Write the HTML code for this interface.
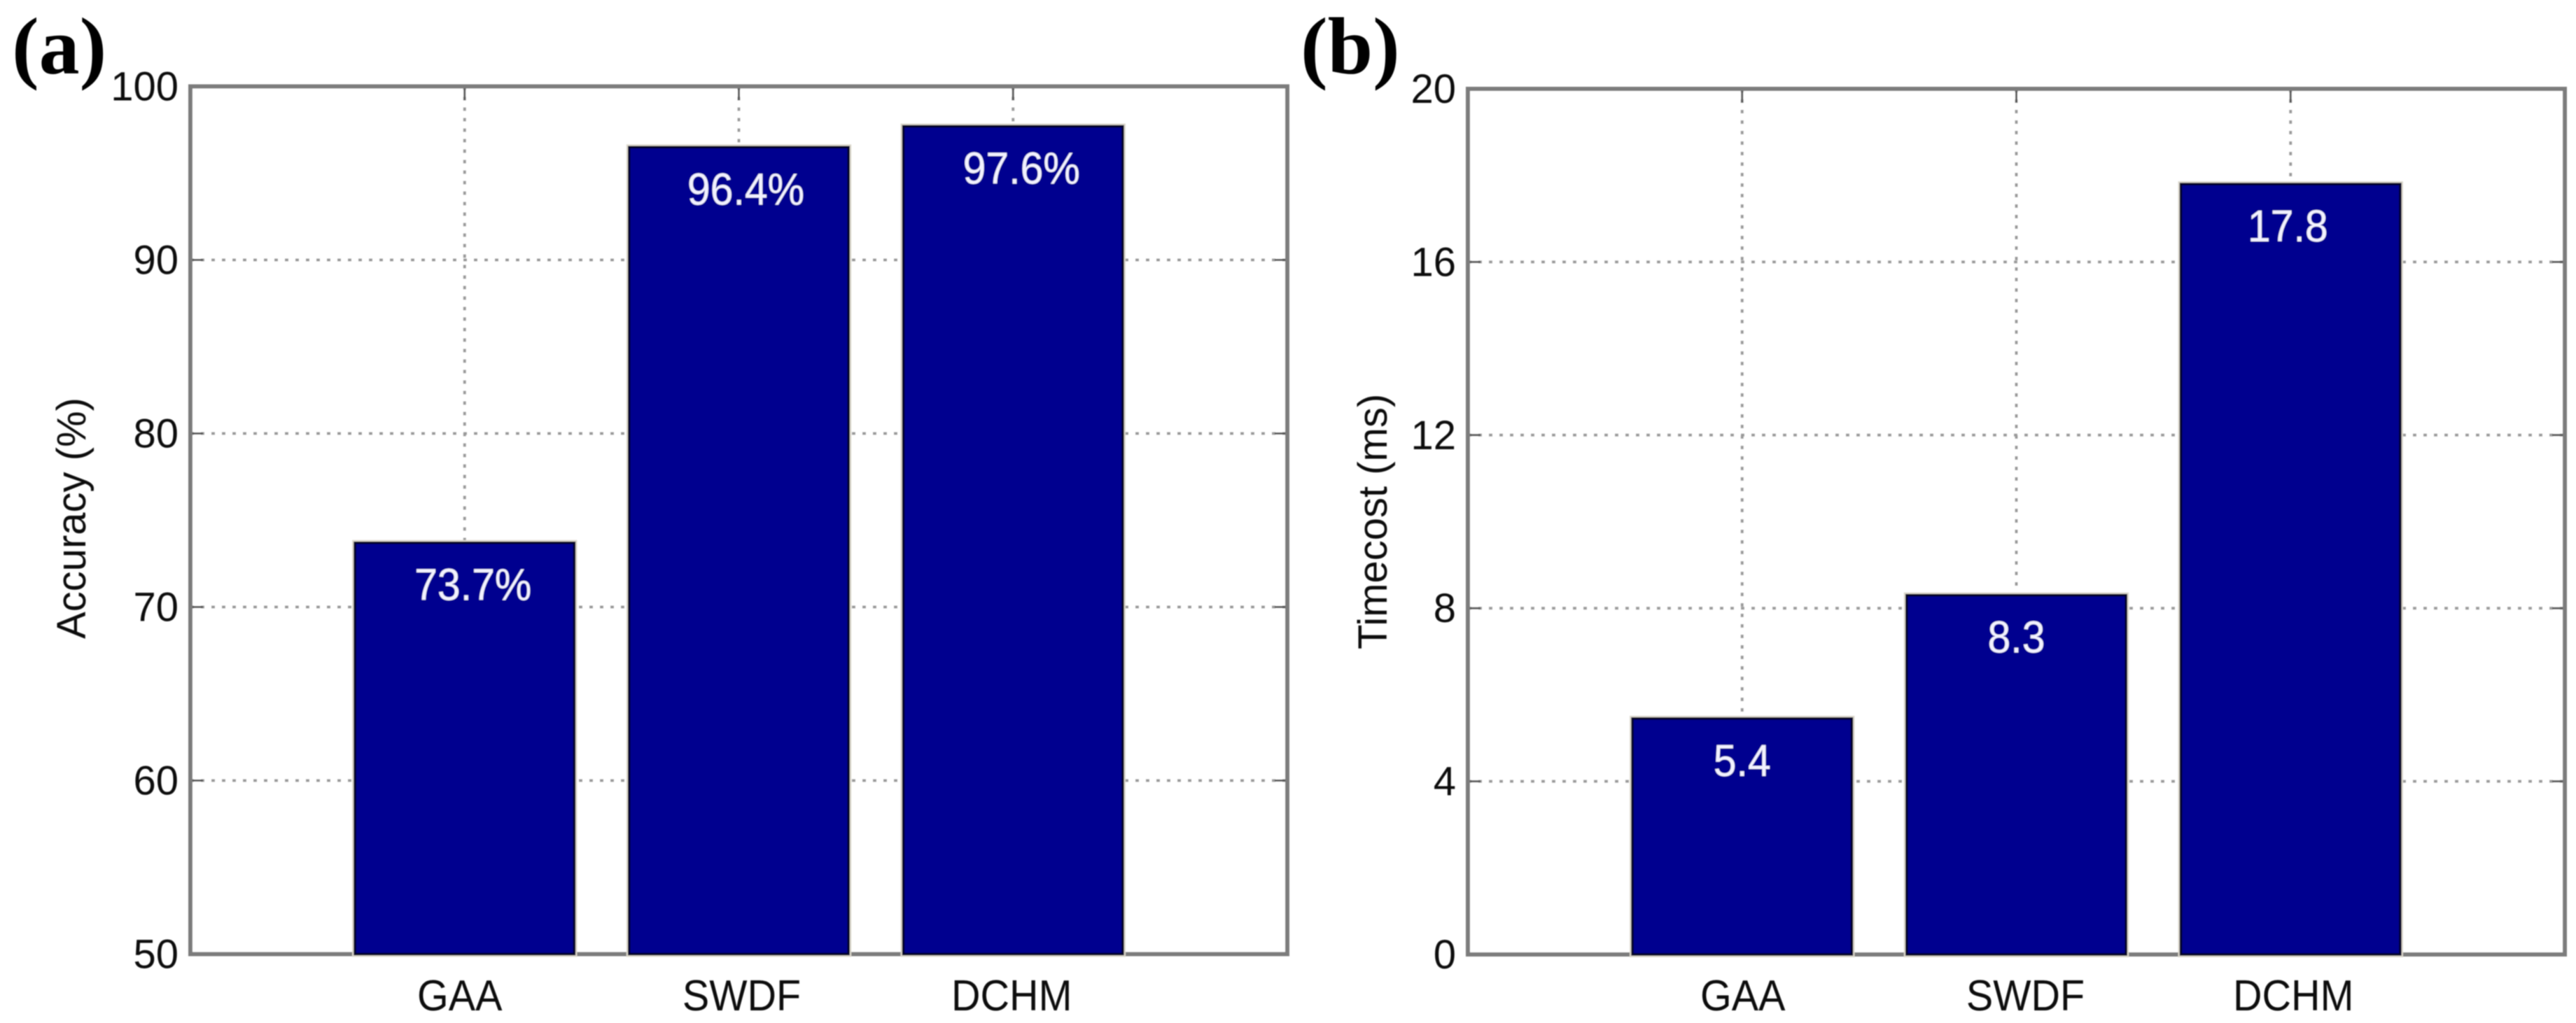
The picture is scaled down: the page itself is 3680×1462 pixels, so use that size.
<!DOCTYPE html>
<html lang="en">
<head>
<meta charset="utf-8">
<title>Accuracy and time cost bar charts</title>
<style>
  html, body { margin: 0; padding: 0; background: #fff; }
  body { width: 3680px; height: 1462px; overflow: hidden; }
  svg { display: block; }
  text { font-family: "Liberation Sans", Arial, sans-serif; }
</style>
</head>
<body>
<svg id="figure" xmlns="http://www.w3.org/2000/svg" width="3680" height="1462" viewBox="0 0 3680 1462">
  <defs>
    <filter id="soft" x="-2%" y="-2%" width="104%" height="104%">
      <feGaussianBlur stdDeviation="0.9"/>
    </filter>
  </defs>
  <rect x="0" y="0" width="3680" height="1462" fill="#fff"/>
  <g id="root" filter="url(#soft)"></g>
</svg>
<script>
const categories = ['GAA', 'SWDF', 'DCHM'];

const accuracyValues = [73.7, 96.5, 97.7];
const accuracyLabels = ['73.7%', '96.4%', '97.6%'];
const accuracyTicks = [50, 60, 70, 80, 90, 100];

const timecostValues = [5.45, 8.3, 17.8];
const timecostLabels = ['5.4', '8.3', '17.8'];
const timecostTicks = [0, 4, 8, 12, 16, 20];

const NS = 'http://www.w3.org/2000/svg';
const root = document.getElementById('root');

function make(tag, attrs, parent) {
  const el = document.createElementNS(NS, tag);
  for (const key in attrs) el.setAttribute(key, attrs[key]);
  parent.appendChild(el);
  return el;
}

function drawPanel(cfg) {
  const xScale = v => cfg.left + (v / 4) * (cfg.right - cfg.left);
  const yScale = v => cfg.bottom - (v - cfg.yMin) / (cfg.yMax - cfg.yMin) * (cfg.bottom - cfg.top);

  const panel = make('g', {}, root);
  
  

  const plotBg = make('rect', { x: cfg.left, y: cfg.top, width: cfg.right - cfg.left, height: cfg.bottom - cfg.top, fill: '#fff' }, panel);
  
  

  cfg.ticks.forEach(t => {
    const y = yScale(t);
    if (t !== cfg.yMin && t !== cfg.yMax) {
      const grid = make('line', { x1: cfg.left, x2: cfg.right, y1: y, y2: y, stroke: '#9a9a9a', 'stroke-width': 4, 'stroke-dasharray': '5 10' }, panel);
      
      
      const tickL = make('line', { x1: cfg.left, x2: cfg.left + 18, y1: y, y2: y, stroke: '#555', 'stroke-width': 3 }, panel);
      
      
      const tickR = make('line', { x1: cfg.right - 18, x2: cfg.right, y1: y, y2: y, stroke: '#555', 'stroke-width': 3 }, panel);
      
      
    }
    const label = make('text', { x: cfg.left - 17, y: y + 20, 'text-anchor': 'end', 'font-size': 58, fill: '#111' }, panel);
    label.textContent = String(t);
    
    
  });

  categories.forEach((c, i) => {
    const x = xScale(i + 1);
    const grid = make('line', { x1: x, x2: x, y1: cfg.top, y2: cfg.bottom, stroke: '#9a9a9a', 'stroke-width': 4, 'stroke-dasharray': '5 10' }, panel);
    
    
    const tick = make('line', { x1: x, x2: x, y1: cfg.top, y2: cfg.top + 20, stroke: '#555', 'stroke-width': 3 }, panel);
    
    
  });

  const frame = make('rect', { x: cfg.left, y: cfg.top, width: cfg.right - cfg.left, height: cfg.bottom - cfg.top, fill: 'none', stroke: '#7c7c7c', 'stroke-width': 6 }, panel);
  
  

  categories.forEach((c, i) => {
    const center = xScale(i + 1);
    const half = xScale(0.4) - xScale(0);
    const yTop = yScale(cfg.values[i]);
    const attrs = { x: center - half, y: yTop, width: half * 2, height: cfg.bottom - yTop };

    const halo = make('rect', Object.assign({ fill: 'none', stroke: '#dcd8cc', 'stroke-width': 8 }, attrs), panel);
    
    

    const bar = make('rect', Object.assign({ fill: '#00008f', stroke: '#05052a', 'stroke-width': 3.5 }, attrs), panel);
    
    

    const value = make('text', { transform: 'translate(' + (center + cfg.labelDx[i]) + ' ' + (yTop + 82) + ') scale(1 1.08)', 'text-anchor': 'middle', 'font-size': 59, fill: '#f2f2ff' }, panel);
    value.textContent = cfg.labels[i];
    
    

    const xLabel = make('text', { transform: 'translate(' + (center + cfg.catDx[i]) + ' 1444) scale(1 1.08)', 'text-anchor': 'middle', 'font-size': 57.5, fill: '#111' }, panel);
    xLabel.textContent = c;
    
    
  });

  const title = make('text', { transform: 'translate(' + cfg.titleX + ' ' + cfg.titleY + ') rotate(-90)', 'font-size': 58, fill: '#111' }, panel);
  title.textContent = cfg.title;
  
  

  const tag = make('text', { x: cfg.tagX, y: 105, 'font-size': 116, 'font-weight': 'bold', fill: '#000', style: 'font-family:"Liberation Serif","Times New Roman",serif' }, panel);
  tag.textContent = '(' + cfg.id + ')';
  
  
}

drawPanel({
  id: 'a', left: 272, right: 1839, top: 123.5, bottom: 1363.5, yMin: 50, yMax: 100,
  values: accuracyValues, labels: accuracyLabels, ticks: accuracyTicks,
  labelDx: [12, 10, 12], catDx: [-7, 4, -2], title: 'Accuracy (%)', titleX: 122, titleY: 913, tagX: 17
});

drawPanel({
  id: 'b', left: 2097, right: 3664, top: 127, bottom: 1364, yMin: 0, yMax: 20,
  values: timecostValues, labels: timecostLabels, ticks: timecostTicks,
  labelDx: [0, 0, -4], catDx: [1, 13, 4], title: 'Timecost (ms)', titleX: 1981, titleY: 928, tagX: 1858
});
</script>
</body>
</html>
